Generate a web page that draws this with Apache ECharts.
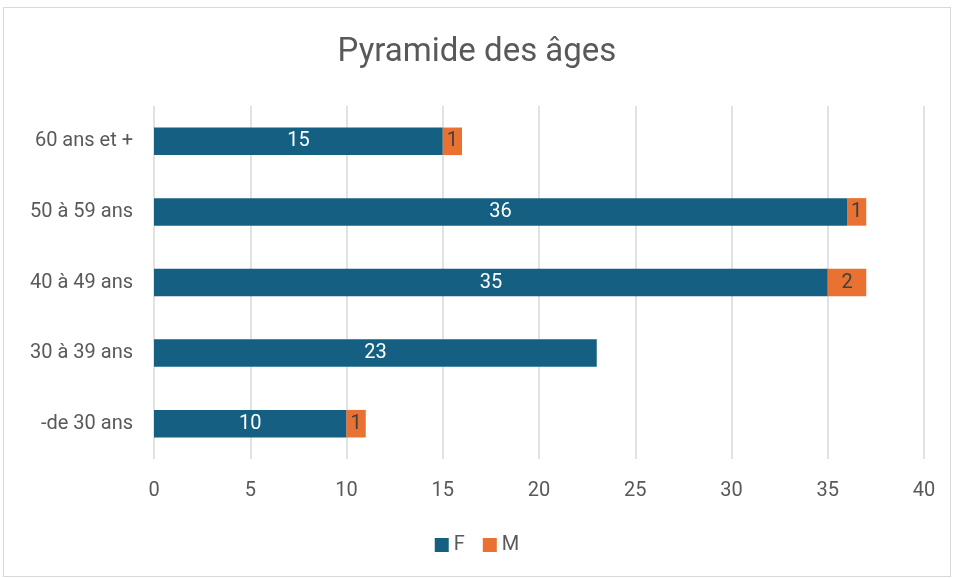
<!DOCTYPE html>
<html>
<head>
<meta charset="utf-8">
<script src="https://cdn.jsdelivr.net/npm/echarts@6/dist/echarts.min.js"></script>
<style>
  html, body { margin: 0; padding: 0; background: #fff; }
  #chart { width: 954px; height: 578px; }
  #frame { position: absolute; left: 3px; top: 7px; width: 946px; height: 568px; border: 1px solid #d9d9d9; pointer-events: none; }
</style>
</head>
<body>
<div id="chart"></div>
<div id="frame"></div>
<script>
  // données
  var categories = ['-de 30 ans', '30 à 39 ans', '40 à 49 ans', '50 à 59 ans', '60 ans et +'];
  var femmes = [10, 23, 35, 36, 15];
  var hommes = [1, 0, 2, 1, 1];
  var xTicks = [0, 5, 10, 15, 20, 25, 30, 35, 40];

  var chart = echarts.init(document.getElementById('chart'));
  var font = 'Roboto, "Noto Sans", sans-serif';

  var option = {
    title: {
      text: 'Pyramide des âges',
      left: 'center',
      top: 31,
      textStyle: { fontSize: 33, fontWeight: 'normal', color: '#595959', fontFamily: font }
    },
    color: ['#156082', '#E97132'],
    legend: {
      bottom: 18,
      left: 'center',
      itemWidth: 14,
      itemHeight: 14,
      itemGap: 18,
      icon: 'rect',
      textStyle: { fontSize: 20, color: '#595959', fontFamily: font },
      data: ['F', 'M']
    },
    grid: { left: 154, right: 30, top: 106, bottom: 119 },
    xAxis: {
      type: 'value',
      min: xTicks[0],
      max: xTicks[xTicks.length - 1],
      interval: 5,
      axisLine: { show: false },
      axisTick: { show: false },
      axisLabel: { fontSize: 20, color: '#595959', margin: 22, fontFamily: font },
      splitLine: { lineStyle: { color: '#d9d9d9', width: 1.5 } }
    },
    yAxis: {
      type: 'category',
      data: categories,
      axisLine: { show: false },
      axisTick: { show: false },
      axisLabel: { fontSize: 20, color: '#595959', margin: 21, fontFamily: font }
    },
    series: [{
      name: 'F',
      type: 'bar',
      stack: 'total',
      barWidth: '39%',
      data: femmes,
      label: {
        show: true, position: 'inside', color: '#ffffff', fontSize: 20, fontFamily: font
      }
    }, {
      name: 'M',
      type: 'bar',
      stack: 'total',
      barWidth: '39%',
      data: hommes,
      label: {
        show: true, position: 'inside', color: '#404040', fontSize: 20, fontFamily: font,
        formatter: function(p) { return p.value ? p.value : ''; }
      }
    }]
  };
  chart.setOption(option);
</script>
</body>
</html>
